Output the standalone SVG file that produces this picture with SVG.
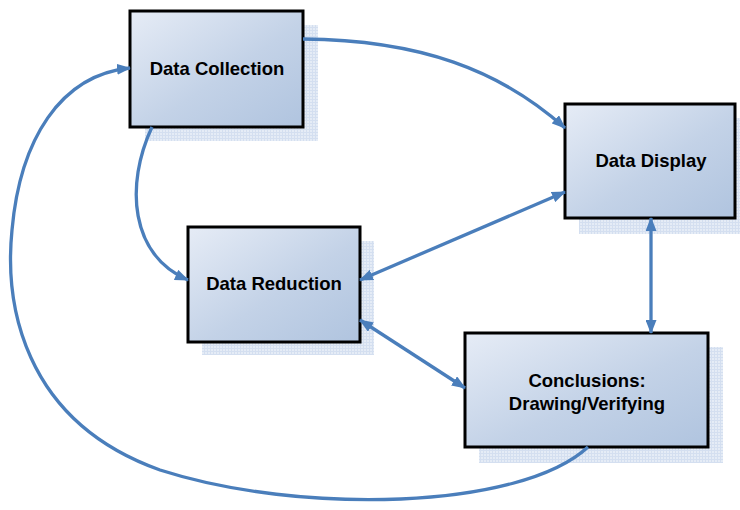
<svg xmlns="http://www.w3.org/2000/svg" width="740" height="510" viewBox="0 0 740 510">
<defs>
<linearGradient id="boxg" x1="0" y1="0" x2="1" y2="1">
<stop offset="0" stop-color="#e6ecf6"/>
<stop offset="0.55" stop-color="#c3d2e7"/>
<stop offset="1" stop-color="#b0c4df"/>
</linearGradient>
<pattern id="hatch" width="3" height="3" patternUnits="userSpaceOnUse">
<rect width="3" height="3" fill="#e5ecf6"/>
<path d="M0,0.5H3M0.5,0V3" stroke="#d4dff0" stroke-width="1"/>
</pattern>
<marker id="ah" viewBox="0 0 14 11" refX="13" refY="5.5" markerWidth="14" markerHeight="11" markerUnits="userSpaceOnUse" orient="auto-start-reverse">
<path d="M0,0 L14,5.5 L0,11 Z" fill="#4a7ebb"/>
</marker>
<style>
.shadow{fill:url(#hatch);}
.box{fill:url(#boxg);stroke:#000;stroke-width:3;}
.lbl{font-family:"Liberation Sans",Arial,sans-serif;font-weight:bold;font-size:18.5px;fill:#000;text-anchor:middle;}
.conn{fill:none;stroke:#4a7ebb;stroke-width:3.3;}
</style>
</defs>
<rect width="740" height="510" fill="#fff"/>
<g id="node-collection">
<rect class="shadow" x="145" y="25" width="173" height="116"/>
<rect class="box" x="130" y="11" width="173" height="116"/>
<text class="lbl" x="217" y="75">Data Collection</text>
</g>
<g id="node-display">
<rect class="shadow" x="579" y="118" width="170" height="116"/>
<rect class="box" x="565" y="104" width="170" height="114"/>
<text class="lbl" x="651" y="167">Data Display</text>
</g>
<g id="node-reduction">
<rect class="shadow" x="202" y="241" width="172" height="114"/>
<rect class="box" x="188" y="227" width="172" height="115"/>
<text class="lbl" x="274" y="290">Data Reduction</text>
</g>
<g id="node-conclusions">
<rect class="shadow" x="479" y="347" width="244" height="116"/>
<rect class="box" x="465" y="333" width="243" height="114"/>
<text class="lbl" x="587" y="387">Conclusions:</text>
<text class="lbl" x="587" y="410">Drawing/Verifying</text>
</g>
<g id="connectors">
<path class="conn" d="M303,39 C420,40 500,70 565,128" marker-end="url(#ah)"/>
<path class="conn" d="M152,127 C125,185 130,255 188,280" marker-end="url(#ah)"/>
<path class="conn" d="M565,192 L360,280" marker-start="url(#ah)" marker-end="url(#ah)"/>
<path class="conn" d="M651,218 L651,333" marker-start="url(#ah)" marker-end="url(#ah)"/>
<path class="conn" d="M360,320 L465,388" marker-start="url(#ah)" marker-end="url(#ah)"/>
<path class="conn" d="M588,447 C520,510 300,515 160,470 C20,420 5,300 12,230 C20,140 60,75 130,68" marker-end="url(#ah)"/>
</g>
</svg>
